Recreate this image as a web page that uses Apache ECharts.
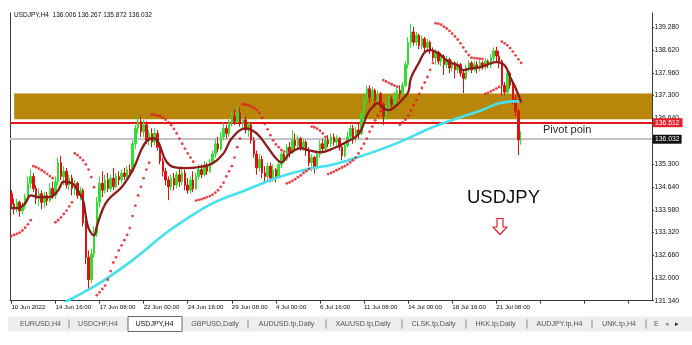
<!DOCTYPE html>
<html><head><meta charset="utf-8">
<script src="https://cdn.jsdelivr.net/npm/echarts@6/dist/echarts.min.js"></script>
<style>html,body{margin:0;padding:0;background:#fff}#c{width:692px;height:345px}</style>
</head><body><div id="c"></div>
<script>
// ---------- DATA ----------
const symbolTitle = 'USDJPY,H4  136.006 136.267 135.872 136.032';
const xTickLabels = ['10 Jun 2022','14 Jun 16:00','17 Jun 08:00','22 Jun 00:00','24 Jun 16:00','29 Jun 08:00','4 Jul 00:00','6 Jul 16:00','11 Jul 08:00','14 Jul 00:00','18 Jul 16:00','21 Jul 08:00'];
const barsPerLabel = 16;
const totalSlots = 233;
const yTickLabels = ['131.340','132.000','132.660','133.320','133.980','134.640','135.300','136.640','137.300','137.960','138.620','139.280'];
const yMin = 131.34, yMax = 139.70;
const zoneLow = 136.61, zoneHigh = 137.36;
const pivotLevel = 136.512;
const bidLevel = 136.032;
// [open, close, low, high]
const ohlc = [
[134.45,134.15,134.0,134.55],[134.15,134.0,133.85,134.3],[134.0,134.2,133.9,134.3],[134.2,133.95,133.78,134.25],
[133.95,134.1,133.85,134.2],[134.1,134.35,134.0,134.45],[134.35,134.75,134.25,134.95],[134.75,134.95,134.6,135.15],
[134.95,134.6,134.5,135.05],[134.6,134.3,134.15,134.7],[134.3,134.45,134.1,134.6],[134.45,134.2,134.0,134.55],
[134.2,134.4,134.05,134.5],[134.4,134.25,134.1,134.5],[134.25,134.6,134.2,134.75],[134.6,134.4,134.3,134.8],
[134.4,134.8,134.3,134.95],[134.8,135.35,134.7,135.5],[135.35,134.95,134.85,135.55],[134.95,135.1,134.7,135.25],
[135.1,134.7,134.6,135.2],[134.7,134.9,134.55,135.0],[134.9,134.6,134.4,135.0],[134.6,134.75,134.4,134.85],
[134.75,134.4,134.3,134.8],[134.4,134.55,134.25,134.65],[134.55,133.6,133.5,134.6],[133.6,132.6,132.4,133.7],
[132.6,131.95,131.64,132.8],[131.95,132.7,131.85,132.85],[132.7,133.3,132.6,133.5],[133.3,134.2,133.2,134.35],
[134.2,134.75,134.05,134.95],[134.75,134.55,134.35,135.1],[134.55,134.85,134.45,135.0],[134.85,134.6,134.5,135.05],
[134.6,134.9,134.5,135.0],[134.9,134.65,134.55,135.2],[134.65,134.95,134.6,135.05],[134.95,134.85,134.7,135.1],
[134.85,135.05,134.75,135.15],[135.05,134.95,134.85,135.2],[134.95,135.15,134.9,135.25],[135.15,135.1,134.95,135.3],
[135.1,135.9,135.05,136.0],[135.9,136.35,135.75,136.45],[136.35,136.55,136.2,136.7],[136.55,136.25,136.1,136.7],
[136.25,136.45,136.1,136.6],[136.45,136.0,135.9,136.55],[136.0,136.2,135.85,136.3],[136.2,135.95,135.8,136.35],
[135.95,136.2,135.85,136.35],[136.2,135.8,135.7,136.3],[135.8,135.4,135.3,135.9],[135.4,135.1,134.95,135.5],
[135.1,134.85,134.7,135.2],[134.85,134.65,134.26,134.95],[134.65,134.9,134.55,135.0],[134.9,134.7,134.55,135.05],
[134.7,135.0,134.6,135.1],[135.0,134.8,134.65,135.2],[134.8,135.05,134.7,135.25],[135.05,134.7,134.55,135.15],
[134.7,134.55,134.45,134.9],[134.55,134.85,134.45,134.95],[134.85,134.6,134.5,135.1],[134.6,134.95,134.55,135.05],
[134.95,135.15,134.85,135.3],[135.15,135.0,134.9,135.3],[135.0,135.25,134.95,135.4],[135.25,135.1,135.0,135.35],
[135.1,135.35,135.05,135.45],[135.35,135.6,135.3,135.7],[135.6,135.9,135.5,136.05],[135.9,135.75,135.65,136.1],
[135.75,136.1,135.7,136.25],[136.1,136.35,136.0,136.5],[136.35,136.2,136.05,136.45],[136.2,136.5,136.1,136.6],
[136.5,136.7,136.4,136.85],[136.7,136.55,136.45,136.9],[136.55,136.8,136.5,137.0],[136.8,136.5,136.4,136.95],
[136.5,136.6,136.35,136.75],[136.6,136.3,136.2,136.7],[136.3,136.45,136.1,136.55],[136.45,136.0,135.9,136.5],
[136.0,135.6,135.5,136.1],[135.6,135.2,135.0,135.7],[135.2,135.45,135.1,135.6],[135.45,135.05,134.9,135.55],
[135.05,134.95,134.75,135.25],[134.95,135.25,134.85,135.35],[135.25,134.9,134.78,135.35],[134.9,135.15,134.8,135.3],
[135.15,134.95,134.78,135.2],[134.95,135.3,134.9,135.4],[135.3,135.6,135.2,135.7],[135.6,135.45,135.35,135.64],
[135.45,135.8,135.4,135.9],[135.8,135.65,135.5,135.95],[135.65,136.0,135.6,136.3],[136.0,135.85,135.7,136.2],
[135.85,136.05,135.75,136.15],[136.05,135.8,135.7,136.1],[135.8,135.95,135.7,136.05],[135.95,135.7,135.55,136.0],
[135.7,135.35,135.25,135.8],[135.35,135.5,135.1,135.6],[135.5,135.2,135.04,135.55],[135.2,135.6,135.15,135.7],
[135.6,135.9,135.5,136.0],[135.9,135.75,135.65,136.05],[135.75,136.0,135.7,136.08],[136.0,135.9,135.8,136.15],
[135.9,136.1,135.8,136.2],[136.1,135.95,135.85,136.2],[135.95,136.05,135.85,136.15],[136.05,135.8,135.7,136.1],
[135.8,135.55,135.42,135.9],[135.55,135.85,135.5,135.95],[135.85,136.1,135.8,136.25],[136.1,136.35,136.0,136.45],
[136.35,136.05,135.9,136.45],[136.05,136.3,135.95,136.4],[136.3,136.2,136.05,136.5],[136.2,136.75,136.15,136.85],
[136.75,137.2,136.65,137.35],[137.2,137.5,137.05,137.6],[137.5,137.25,137.1,137.6],[137.25,137.45,137.1,137.55],
[137.45,137.15,136.95,137.5],[137.15,137.35,137.05,137.45],[137.35,137.05,136.9,137.4],[137.05,136.7,136.45,137.1],
[136.7,137.0,136.6,137.1],[137.0,137.2,136.9,137.3],[137.2,137.05,136.95,137.3],[137.05,137.3,137.0,137.4],
[137.3,137.45,137.2,137.52],[137.45,137.35,137.2,137.6],[137.35,137.6,137.3,137.7],[137.6,138.2,137.55,138.3],
[138.2,138.85,138.1,139.0],[138.85,139.15,138.7,139.39],[139.15,138.85,138.75,139.3],[138.85,139.05,138.75,139.15],
[139.05,138.75,138.65,139.1],[138.75,138.95,138.65,139.05],[138.95,138.7,138.55,139.0],[138.7,138.85,138.6,138.95],
[138.85,138.6,138.5,138.9],[138.6,138.4,138.3,138.7],[138.4,138.55,138.2,138.65],[138.55,138.3,138.2,138.6],
[138.3,138.45,138.15,138.55],[138.45,138.2,137.9,138.5],[138.2,138.35,138.1,138.45],[138.35,138.1,137.95,138.4],
[138.1,138.25,138.0,138.35],[138.25,138.05,137.8,138.3],[138.05,138.2,137.95,138.3],[138.2,137.95,137.85,138.25],
[137.95,137.8,137.37,138.05],[137.8,138.1,137.75,138.2],[138.1,138.25,138.0,138.33],[138.25,138.05,137.95,138.3],
[138.05,138.2,138.0,138.3],[138.2,138.1,137.95,138.3],[138.1,138.25,138.0,138.33],[138.25,138.15,138.05,138.3],
[138.15,138.3,138.05,138.4],[138.3,138.2,138.1,138.35],[138.2,138.4,138.1,138.5],[138.4,138.6,138.3,138.7],
[138.6,138.45,138.3,138.72],[138.45,138.3,138.1,138.6],[138.3,137.6,137.3,138.35],[137.6,137.4,137.3,137.7],
[137.4,137.95,137.3,138.05],[137.95,137.6,137.5,138.0],[137.6,137.2,137.05,137.7],[137.2,136.85,136.7,137.3],
[136.85,136.01,135.57,136.9],[136.006,136.032,135.872,136.267]
];
// fast moving average (dark red), read as [bar, price]
const maFast = [[0,134.03],[2,134.03],[5,134.17],[7,134.4],[10,134.35],[14,134.35],[17,134.55],[19,134.8],[22,134.75],
[24,134.55],[26,134.26],[27,133.8],[28,133.45],[30,133.24],[31,133.5],[33,133.97],[35,134.26],[40,134.64],[43,134.99],
[45,135.3],[47,135.7],[49,135.97],[51,136.06],[53,136.0],[56,135.42],[59,135.22],[63,135.19],[68,135.22],[73,135.33],
[77,135.62],[80,136.06],[85,136.35],[89,136.2],[93,135.8],[96,135.48],[98,135.36],[101,135.62],[105,135.77],[108,135.71],
[112,135.65],[117,135.77],[122,135.97],[125,136.1],[127,136.3],[129,136.73],[131,136.96],[133,137.08],[135,136.93],
[137,136.88],[139,136.96],[141,137.11],[144,137.4],[145,137.81],[148,138.27],[150,138.56],[152,138.62],[155,138.53],
[157,138.39],[159,138.27],[162,138.18],[164,138.04],[167,138.1],[170,138.12],[174,138.24],[176,138.27],[179,138.18],
[181,137.84],[183,137.52],[185,137.1]];
// slow moving average (cyan)
const maSlow = [[17,131.2],[21,131.36],[32,131.85],[44,132.52],[56,133.3],[64,133.74],[73,134.17],[85,134.55],[97,134.93],
[109,135.19],[116,135.28],[128,135.57],[140,135.92],[152,136.35],[163,136.67],[171,136.88],[177,137.08],[185,137.14]];
// parabolic SAR dots
const sar = [
[0,133.22],[1,133.25],[2,133.28],[3,133.32],[4,133.38],[5,133.46],[6,133.56],[7,133.68],
[8,135.25],[9,135.22],[10,135.18],[11,135.13],[12,135.08],[13,135.02],[14,134.96],[15,134.9],
[16,133.62],[17,133.68],[18,133.76],[19,133.86],[20,133.96],[21,134.08],[22,134.2],
[23,135.62],[24,135.57],[25,135.5],[26,135.42],[27,135.3],[28,135.15],[29,134.93],[30,134.64],
[31,131.5],[32,131.58],[33,131.68],[34,131.78],[35,131.95],[36,132.2],[37,132.45],[38,132.6],[39,132.8],[40,132.95],
[41,133.1],[42,133.25],[43,133.45],[44,133.8],[45,134.1],[46,134.4],[47,134.65],[48,134.9],[49,135.15],[50,135.35],
[51,136.75],[52,136.74],[53,136.72],[54,136.7],[55,136.65],[56,136.6],[57,136.52],[58,136.44],[59,136.33],[60,136.2],
[61,136.05],[62,135.9],[63,135.76],[64,135.62],[65,135.5],[66,135.38],
[67,134.25],[68,134.27],[69,134.29],[70,134.32],[71,134.35],[72,134.38],[73,134.42],[74,134.48],[75,134.55],[76,134.65],
[77,134.77],[78,134.95],[79,135.1],[80,135.25],[81,135.5],[82,135.8],[83,136.05],
[84,137.05],[85,137.04],[86,137.02],[87,136.98],[88,136.94],[89,136.88],[90,136.8],[91,136.65],[92,136.48],[93,136.32],
[94,136.15],[95,136.0],[96,135.88],[97,135.8],[98,135.72],[99,135.67],
[100,134.75],[101,134.78],[102,134.82],[103,134.87],[104,134.93],[105,134.98],[106,135.05],[107,135.1],[108,135.17],
[109,136.4],[110,136.38],[111,136.34],[112,136.28],[113,136.2],[114,136.1],
[115,135.02],[116,135.05],[117,135.09],[118,135.13],[119,135.17],[120,135.21],[121,135.25],[122,135.3],[123,135.36],
[124,135.42],[125,135.5],[126,135.62],[127,135.76],[128,135.9],[129,136.05],[130,136.25],[131,136.4],[132,136.58],
[133,136.72],[134,136.85],
[135,137.75],[136,137.71],[137,137.67],[138,137.63],[139,137.59],[140,137.56],
[141,136.45],[142,136.52],[143,136.6],[144,136.72],[145,136.87],[146,137.02],[147,137.17],[148,137.35],[149,137.52],
[150,137.68],[151,137.84],[152,138.05],[153,138.25],
[154,139.4],[155,139.39],[156,139.36],[157,139.3],[158,139.25],[159,139.18],[160,139.1],[161,139.02],[162,138.93],
[163,138.82],[164,138.7],[165,138.58],[166,138.48],
[167,138.4],[168,138.39],[169,138.38],[170,138.37],[171,138.36],
[172,137.35],[173,137.38],[174,137.42],[175,137.46],[176,137.5],[177,137.55],
[178,138.87],[179,138.82],[180,138.76],[181,138.68],[182,138.58],[183,138.47],[184,138.35],[185,138.25]];
const tabNames = ['EURUSD,H4','USDCHF,H4','USDJPY,H4','GBPUSD,Daily','AUDUSD.tp,Daily','XAUUSD.tp,Daily','CLSK.tp,Daily','HKK.tp,Daily','AUDJPY.tp,H4','UNK.tp,H4'];
const activeTab = 'USDJPY,H4';
const noteText = 'Pivot poin';
const bigLabel = 'USDJPY';

// ---------- LAYOUT (not data) ----------
const tabCenters = [40.5, 98, 154.5, 215, 286.5, 363, 433.5, 495.5, 559.5, 619];
const tabSeps = [69, 248, 326, 402, 466, 527, 592, 646];
const FONT = '"Liberation Sans", Arial, sans-serif';

const categories = Array.from({length: totalSlots}, (_, i) =>
  i % barsPerLabel === 0 ? (xTickLabels[i / barsPerLabel] || '') : '');
const yTicks = yTickLabels.map(Number);

const chart = echarts.init(document.getElementById('c'), null, {renderer: 'canvas'});

const graphics = [
  {type: 'text', x: 14, y: 15.5, z: 10, style: {text: symbolTitle, font: '6.5px ' + FONT, fill: '#111', verticalAlign: 'middle'}},
  {type: 'text', x: 543, y: 130, z: 10, style: {text: noteText, font: '11px ' + FONT, fill: '#2a2a2a', verticalAlign: 'middle'}},
  {type: 'text', x: 467, y: 198, z: 10, style: {text: bigLabel, font: '18.5px ' + FONT, fill: '#111', verticalAlign: 'middle'}},
  {type: 'polygon', z: 10, shape: {points: [[497,218.5],[503,218.5],[503,227],[507,227],[500,234.5],[493,227],[497,227]]},
   style: {fill: '#fff', stroke: '#e3262a', lineWidth: 1.2}},
  // tab bar
  {type: 'rect', z: 1, shape: {x: 8, y: 316.5, width: 684, height: 15}, style: {fill: '#eeeeee'}},
  {type: 'rect', z: 2, shape: {x: 128, y: 316.5, width: 54, height: 15}, style: {fill: '#ffffff', stroke: '#6a6a6a', lineWidth: 1}},
  {type: 'text', x: 654, y: 324, z: 3, style: {text: 'E', font: '7.1px ' + FONT, fill: '#555', verticalAlign: 'middle'}},
  {type: 'text', x: 665, y: 324, z: 3, style: {text: '◂', font: '7px ' + FONT, fill: '#888', verticalAlign: 'middle'}},
  {type: 'text', x: 675, y: 324, z: 3, style: {text: '▸', font: '7px ' + FONT, fill: '#222', verticalAlign: 'middle'}}
];
tabNames.forEach((n, k) => {
  graphics.push({type: 'text', x: tabCenters[k], y: 324, z: 3,
    style: {text: n, font: '7.1px ' + FONT, fill: n === activeTab ? '#111' : '#555', align: 'center', verticalAlign: 'middle'}});
});
tabSeps.forEach(sx => {
  graphics.push({type: 'line', z: 3, shape: {x1: sx, y1: 319.5, x2: sx, y2: 328.5}, style: {stroke: '#8a8a8a', lineWidth: 1}});
});

chart.setOption({
  animation: false,
  backgroundColor: '#ffffff',
  grid: {left: 10, right: 40, top: 13, bottom: 44.3, containLabel: false},
  xAxis: {
    type: 'category', data: categories, boundaryGap: true,
    axisLine: {show: true, lineStyle: {color: '#3c3c3c', width: 1}},
    axisTick: {show: true, interval: barsPerLabel - 1, alignWithLabel: true, length: 3, lineStyle: {color: '#3c3c3c'}},
    axisLabel: {interval: barsPerLabel - 1, align: 'left', margin: 4, fontSize: 6.2, fontFamily: FONT, color: '#111'},
    splitLine: {show: false}
  },
  yAxis: [{
    type: 'value', position: 'right', min: yMin, max: yMax, scale: true,
    axisLine: {show: true, lineStyle: {color: '#3c3c3c', width: 1}},
    axisTick: {show: true, customValues: yTicks, length: 2, lineStyle: {color: '#3c3c3c'}},
    axisLabel: {customValues: yTicks, formatter: v => v.toFixed(3), margin: 2.5, fontSize: 6.8, fontFamily: FONT, color: '#111'},
    splitLine: {show: false}
  }, {
    type: 'value', position: 'left', min: yMin, max: yMax,
    axisLine: {show: true, lineStyle: {color: '#3c3c3c', width: 1}},
    axisTick: {show: false}, axisLabel: {show: false}, splitLine: {show: false}
  }],
  graphic: graphics,
  series: [
    {
      type: 'candlestick', name: 'USDJPY', data: ohlc, z: 2, barWidth: 2,
      itemStyle: {color: '#2fe02f', color0: '#e01010', borderColor: '#2fe02f', borderColor0: '#e01010', borderWidth: 1},
      markArea: {
        silent: true, z: 1,
        itemStyle: {color: '#b8860b', opacity: 1},
        data: [[{xAxis: 1, yAxis: zoneLow}, {yAxis: zoneHigh}]]
      },
      markLine: {
        silent: true, z: 1, symbol: 'none', precision: 3,
        data: [
          {yAxis: pivotLevel, lineStyle: {color: '#e01818', width: 2, type: 'solid'},
           label: {show: true, position: 'end', distance: 1, formatter: pivotLevel.toFixed(3), backgroundColor: '#e8202a',
                   color: '#fff', padding: [1, 3, 1, 2], fontSize: 6.8, fontFamily: FONT}},
          {yAxis: bidLevel, lineStyle: {color: '#c4c4c8', width: 2, type: 'solid'},
           label: {show: true, position: 'end', distance: 1, formatter: bidLevel.toFixed(3), backgroundColor: '#111',
                   color: '#fff', padding: [1, 2, 1, 2], fontSize: 6.8, fontFamily: FONT}}
        ]
      }
    },
    {type: 'line', name: 'MA slow', data: maSlow, z: 3, smooth: 0.4, showSymbol: false, clip: true,
     lineStyle: {color: '#45e2ee', width: 2.6}},
    {type: 'line', name: 'MA fast', data: maFast, z: 4, smooth: 0.4, showSymbol: false, clip: true,
     lineStyle: {color: '#8c1c1c', width: 2.3}},
    {type: 'scatter', name: 'SAR', data: sar, z: 5, symbol: 'circle', symbolSize: 2.8,
     itemStyle: {color: '#e8141b'}}
  ]
});
</script>
</body></html>
